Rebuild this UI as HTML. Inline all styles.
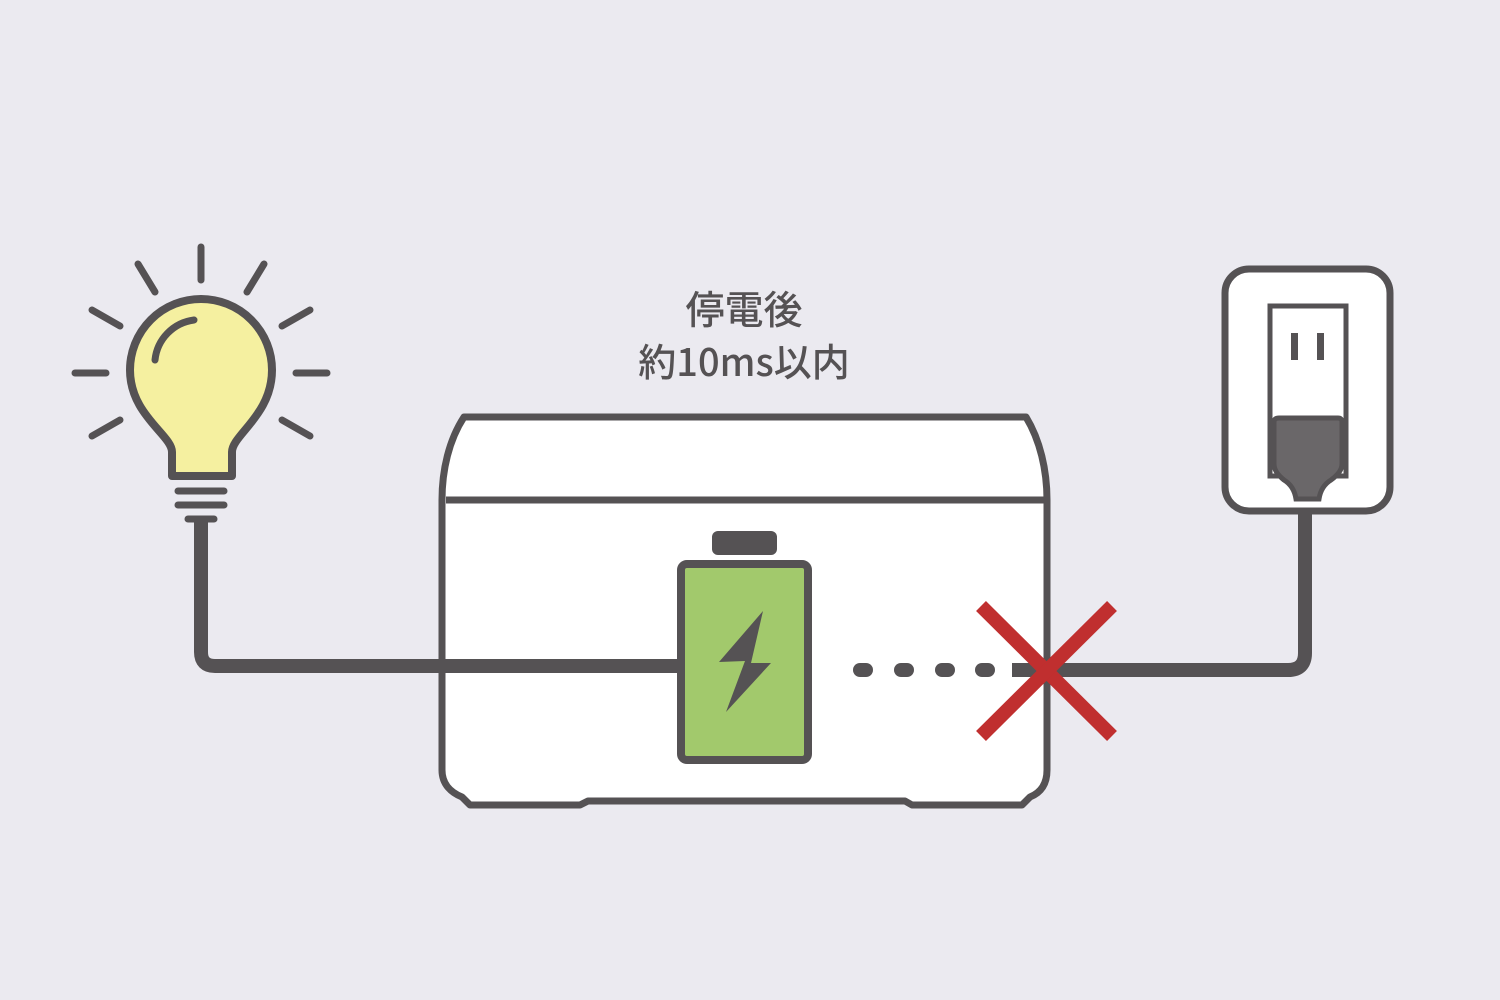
<!DOCTYPE html>
<html><head><meta charset="utf-8"><style>
html,body{margin:0;padding:0;background:#ebeaf0;}
svg{display:block}
</style></head><body>
<svg width="1500" height="1000" viewBox="0 0 1500 1000">
<rect width="1500" height="1000" fill="#ebeaf0"/>
<g stroke="#555254" stroke-linecap="round" stroke-width="7" fill="none">
<line x1="201" y1="247" x2="201" y2="280"/>
<line x1="138" y1="264" x2="155" y2="292"/>
<line x1="264" y1="264" x2="247" y2="292"/>
<line x1="92" y1="310" x2="120" y2="326"/>
<line x1="310" y1="310" x2="282" y2="326"/>
<line x1="75" y1="373" x2="106" y2="373"/>
<line x1="296" y1="373" x2="327" y2="373"/>
<line x1="92" y1="436" x2="120" y2="420"/>
<line x1="310" y1="436" x2="282" y2="420"/>
</g>
<path d="M172,476 L172,452 C172,435 130,415 130,370 A71,71 0 1 1 272,370 C272,415 232,435 232,452 L232,476 Z" fill="#f5f0a0" stroke="#555254" stroke-width="8" stroke-linejoin="round"/>
<path d="M155,360 A45,45 0 0 1 194,320" fill="none" stroke="#555254" stroke-width="7" stroke-linecap="round"/>
<g stroke="#555254" stroke-width="7" stroke-linecap="round">
<line x1="178" y1="491" x2="224" y2="491"/>
<line x1="178" y1="505" x2="224" y2="505"/>
<line x1="188" y1="519" x2="214" y2="519"/>
</g>
<path d="M464,417 L1026,417 C1040,440 1047,470 1047,500 L1047,770 C1047,785 1040,793 1030,797 L1022,805 L912,805 L905,801 L588,801 L580,805 L470,805 L462,797 C452,793 442,785 442,770 L442,500 C442,470 449,440 464,417 Z" fill="#fff" stroke="#555254" stroke-width="7" stroke-linejoin="round"/>
<line x1="446" y1="500" x2="1044" y2="500" stroke="#555254" stroke-width="7"/>
<path d="M201,522 L201,652 Q201,666 215,666 L680,666" fill="none" stroke="#555254" stroke-width="14"/>
<rect x="712" y="531" width="65" height="24" rx="6" fill="#555254"/>
<rect x="681" y="564" width="127" height="196" rx="6" fill="#a2c96c" stroke="#555254" stroke-width="8"/>
<polygon points="763,611 719,662 745,661 726,712 771,663 751,663" fill="#555254"/>
<g fill="#555254">
<rect x="853" y="663" width="20" height="14" rx="7"/>
<rect x="894" y="663" width="20" height="14" rx="7"/>
<rect x="935" y="663" width="20" height="14" rx="7"/>
<rect x="975" y="663" width="20" height="14" rx="7"/>
</g>
<path d="M1012,670 L1288,670 Q1305,670 1305,653 L1305,490" fill="none" stroke="#555254" stroke-width="14"/>
<rect x="1225" y="269" width="165" height="242" rx="24" fill="#fff" stroke="#555254" stroke-width="7"/>
<rect x="1270" y="306" width="76" height="170" fill="#fff" stroke="#555254" stroke-width="5"/>
<rect x="1291" y="333" width="7" height="27" fill="#555254"/>
<rect x="1317" y="333" width="7" height="27" fill="#555254"/>
<path d="M1274,422 Q1274,418 1279,418 L1338,418 Q1342,418 1342,422 L1342,464 Q1342,472 1331,480 Q1321,486 1319,499 L1296,499 Q1294,486 1284,480 Q1274,472 1274,464 Z" fill="#6a6769" stroke="#555254" stroke-width="5"/>
<g stroke="#c02f2f" stroke-width="14">
<line x1="981" y1="606" x2="1112" y2="736"/>
<line x1="1112" y1="606" x2="981" y2="736"/>
</g>
<text x="744" y="324" text-anchor="middle" font-family="'Noto Sans CJK JP',sans-serif" font-size="39" font-weight="500" fill="#555254">停電後</text>
<text x="744" y="376" text-anchor="middle" font-family="'Noto Sans CJK JP',sans-serif" font-size="38" font-weight="500" fill="#555254">約10ms以内</text>
</svg>
</body></html>
